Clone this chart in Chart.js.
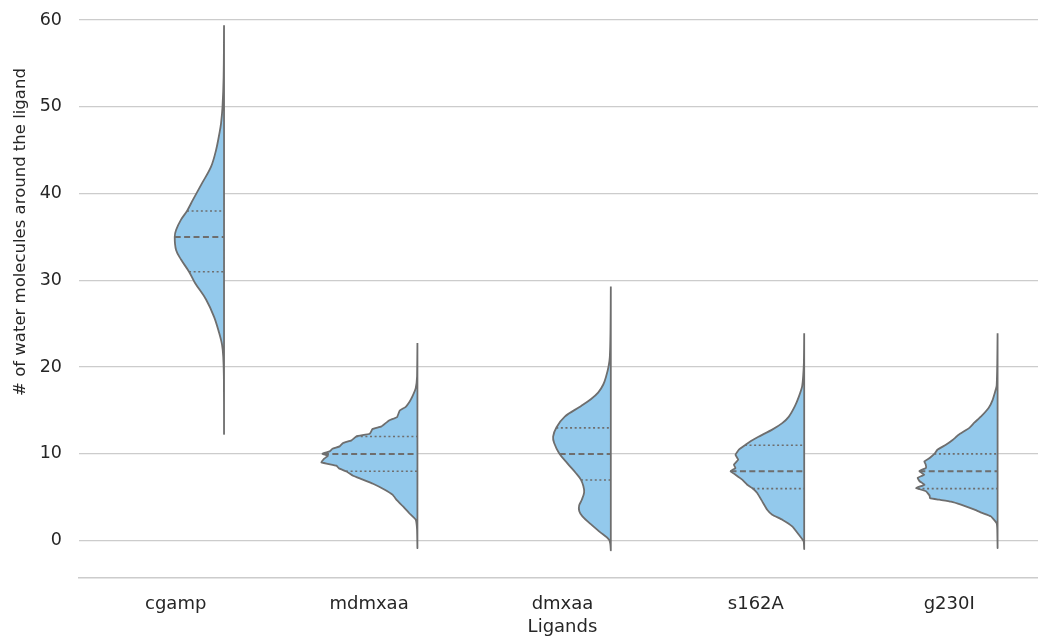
<!DOCTYPE html>
<html>
<head>
<meta charset="utf-8">
<title>Water molecules around the ligand</title>
<script src="https://cdn.jsdelivr.net/npm/chart.js@4.4.1/dist/chart.umd.min.js"></script>
<style>
  html, body { margin: 0; padding: 0; background: #ffffff; }
  #wrap { position: relative; width: 1038px; height: 639px; }
</style>
</head>
<body>
<div id="wrap"><canvas id="chart"></canvas></div>
<script>
// Categories and axis text
const ligands = ['cgamp', 'mdmxaa', 'dmxaa', 's162A', 'g230I'];
const yTicks = [0, 10, 20, 30, 40, 50, 60];
const xTitle = 'Ligands';
const yTitle = '# of water molecules around the ligand';

// Kernel density estimates: water count -> density (per ligand)
const cgampWater   = [12.6, 18.9, 21.2, 22.6, 24.0, 25.8, 27.8, 29.7, 31.0, 32.4, 33.5, 35.0, 35.8, 37.0, 38.0, 39.3, 41.2, 43.1, 45.0, 47.0, 48.1, 50.0, 53.4, 59.4];
const cgampDensity = [0, 0.0003, 0.0013, 0.0033, 0.0082, 0.0163, 0.0294, 0.0474, 0.0572, 0.0703, 0.0784, 0.0806, 0.0784, 0.0703, 0.0605, 0.0507, 0.0359, 0.0212, 0.0131, 0.0074, 0.0049, 0.0025, 0.0007, 0];

const mdmxaaWater   = [-0.84, 1.27, 2.42, 3.19, 3.95, 4.64, 5.3, 5.87, 6.56, 7.1, 7.48, 7.98, 8.33, 8.64, 9.02, 9.41, 9.79, 10.02, 10.29, 10.6, 10.87, 11.25, 11.56, 12.02, 12.32, 12.86, 13.17, 13.86, 14.24, 15.0, 15.4, 16.05, 16.62, 17.58, 18.92, 22.77];
const mdmxaaDensity = [0, 0.0006, 0.0028, 0.0137, 0.0235, 0.0333, 0.0408, 0.0534, 0.0725, 0.0915, 0.1052, 0.1160, 0.1281, 0.1324, 0.1569, 0.1531, 0.1461, 0.1552, 0.1433, 0.1389, 0.1270, 0.1216, 0.1078, 0.0997, 0.0779, 0.0735, 0.0588, 0.0464, 0.0333, 0.0289, 0.0196, 0.0126, 0.0082, 0.0028, 0.0006, 0];

const dmxaaWater   = [-1.04, 0.1, 1.07, 1.9, 2.8, 3.4, 4.04, 4.72, 5.57, 6.3, 7.04, 7.8, 8.9, 10.08, 11.25, 12.0, 13.05, 14.3, 15.5, 16.3, 17.1, 18.0, 19.0, 20.1, 21.2, 24.3, 29.3];
const dmxaaDensity = [0, 0.0028, 0.0191, 0.0327, 0.0464, 0.0515, 0.0518, 0.0474, 0.0436, 0.0449, 0.0490, 0.0572, 0.0709, 0.0845, 0.0926, 0.0943, 0.0889, 0.0752, 0.0490, 0.0327, 0.0204, 0.0123, 0.0074, 0.0036, 0.0016, 0.0005, 0];

const s162AWater   = [-0.96, -0.08, 0.69, 1.65, 2.42, 3.0, 3.57, 4.53, 5.5, 6.07, 6.45, 7.03, 7.6, 8.0, 8.37, 8.75, 9.33, 9.9, 10.5, 11.05, 11.45, 12.0, 12.8, 13.55, 14.3, 15.5, 16.6, 17.8, 20.5, 23.9];
const s162ADensity = [0, 0.0008, 0.0087, 0.0196, 0.0359, 0.0523, 0.0605, 0.0686, 0.0768, 0.0850, 0.0931, 0.1013, 0.1123, 0.1204, 0.1123, 0.1149, 0.1078, 0.1123, 0.1067, 0.0959, 0.0877, 0.0740, 0.0523, 0.0359, 0.0250, 0.0152, 0.0087, 0.0033, 0.0005, 0];

const g230IWater   = [-0.84, 1.3, 2.03, 2.8, 3.2, 3.57, 4.15, 4.5, 4.72, 4.9, 5.2, 5.7, 6.07, 6.45, 6.85, 7.25, 7.6, 8.0, 8.4, 8.8, 9.13, 9.5, 10.0, 10.5, 11.05, 11.6, 12.2, 13.0, 13.6, 14.3, 15.3, 16.2, 17.8, 20.5, 23.9];
const g230IDensity = [0, 0.0005, 0.0016, 0.0109, 0.0253, 0.0376, 0.0598, 0.0761, 0.0953, 0.1105, 0.1111, 0.1170, 0.1333, 0.1193, 0.1275, 0.1307, 0.1198, 0.1279, 0.1170, 0.1176, 0.1198, 0.1116, 0.1034, 0.0980, 0.0845, 0.0735, 0.0637, 0.0462, 0.0381, 0.0273, 0.0147, 0.0082, 0.0016, 0.0005, 0];

// Quartiles per ligand
const q1      = [31, 8, 7, 6, 6];
const medians = [35, 10, 10, 8, 8];
const q3      = [38, 12, 13, 11, 10];

const waterByLigand   = [cgampWater, mdmxaaWater, dmxaaWater, s162AWater, g230IWater];
const densityByLigand = [cgampDensity, mdmxaaDensity, dmxaaDensity, s162ADensity, g230IDensity];

// Drawing parameters
const SPLIT_OFFSET = 0.25;      // flat edge of each half violin, in category units
const WIDTH_PER_DENSITY = 3.164; // half-violin width (category units) per unit density
const FILL = '#93c9ec';
const EDGE = '#6e6e6e';
const TEXT = '#262626';
const GRID = '#cccccc';
const FONT = '"DejaVu Sans", "Liberation Sans", sans-serif';
const smooth = [0.35, 0.1, 0.35, 0.1, 0.1];

function densityAt(water, density, v) {
  for (let k = 1; k < water.length; k++) {
    if (v <= water[k]) {
      const t = (v - water[k - 1]) / (water[k] - water[k - 1]);
      return density[k - 1] + t * (density[k] - density[k - 1]);
    }
  }
  return 0;
}

const datasets = [];
ligands.forEach((name, i) => {
  const water = waterByLigand[i];
  const density = densityByLigand[i];
  const edge = i + SPLIT_OFFSET;
  // closed half-violin: flat edge downwards, then the density curve back up
  const pts = [{ x: edge, y: water[water.length - 1] }, { x: edge, y: water[0] }];
  for (let k = 1; k < water.length; k++) {
    pts.push({ x: edge - density[k] * WIDTH_PER_DENSITY, y: water[k] });
  }
  datasets.push({
    label: name,
    data: pts,
    showLine: true,
    fill: 'shape',
    backgroundColor: FILL,
    borderColor: EDGE,
    borderWidth: 1.8,
    borderJoinStyle: 'round',
    tension: smooth[i],
    pointRadius: 0,
    order: 2
  });
  // quartile (dotted) and median (dashed) lines
  [[q1[i], [2, 2.6], 1.6], [medians[i], [6, 3.4], 2], [q3[i], [2, 2.6], 1.6]].forEach(([q, dash, lw]) => {
    const d = densityAt(water, density, q);
    datasets.push({
      label: name + ' ' + q,
      data: [{ x: edge - d * WIDTH_PER_DENSITY, y: q }, { x: edge, y: q }],
      showLine: true,
      fill: false,
      borderColor: EDGE,
      borderWidth: lw,
      borderDash: dash,
      pointRadius: 0,
      order: 1
    });
  });
});

const axisTitles = {
  id: 'axisTitles',
  afterDraw(chart) {
    const ctx = chart.ctx;
    ctx.save();
    ctx.fillStyle = TEXT;
    ctx.textAlign = 'center';
    ctx.textBaseline = 'middle';
    ctx.font = '18px ' + FONT;
    ctx.fillText(xTitle, chart.scales.x.getPixelForValue(2), 627);
    ctx.translate(21, 232);
    ctx.rotate(-Math.PI / 2);
    ctx.font = '16.5px ' + FONT;
    ctx.fillText(yTitle, 0, 0);
    ctx.restore();
  }
};

new Chart(document.getElementById('chart'), {
  type: 'scatter',
  data: { datasets },
  options: {
    responsive: true,
    maintainAspectRatio: false,
    animation: false,
    events: [],
    layout: { padding: 0 },
    plugins: { legend: { display: false }, tooltip: { enabled: false } },
    scales: {
      x: {
        type: 'linear',
        min: -0.5,
        max: 4.459,
        afterBuildTicks(scale) { scale.ticks = ligands.map((_, i) => ({ value: i })); },
        afterFit(scale) { scale.height = 61.7; scale.paddingLeft = 0; scale.paddingRight = 0; },
        ticks: {
          autoSkip: false,
          maxRotation: 0,
          padding: 16,
          color: TEXT,
          font: { family: FONT, size: 18 },
          callback: (v) => ligands[v]
        },
        grid: { display: true, drawOnChartArea: false, drawTicks: false },
        border: { display: true, color: GRID, width: 1.6 }
      },
      y: {
        type: 'linear',
        min: -4.22,
        max: 62.31,
        afterBuildTicks(scale) { scale.ticks = yTicks.map(v => ({ value: v })); },
        afterFit(scale) { scale.width = 79; scale.paddingTop = 0; scale.paddingBottom = 0; },
        ticks: {
          padding: 17,
          color: TEXT,
          font: { family: FONT, size: 17.5 },
          callback: (v) => String(v)
        },
        grid: { color: GRID, lineWidth: 1.3, drawTicks: false },
        border: { display: false }
      }
    }
  },
  plugins: [axisTitles]
});
</script>
</body>
</html>
